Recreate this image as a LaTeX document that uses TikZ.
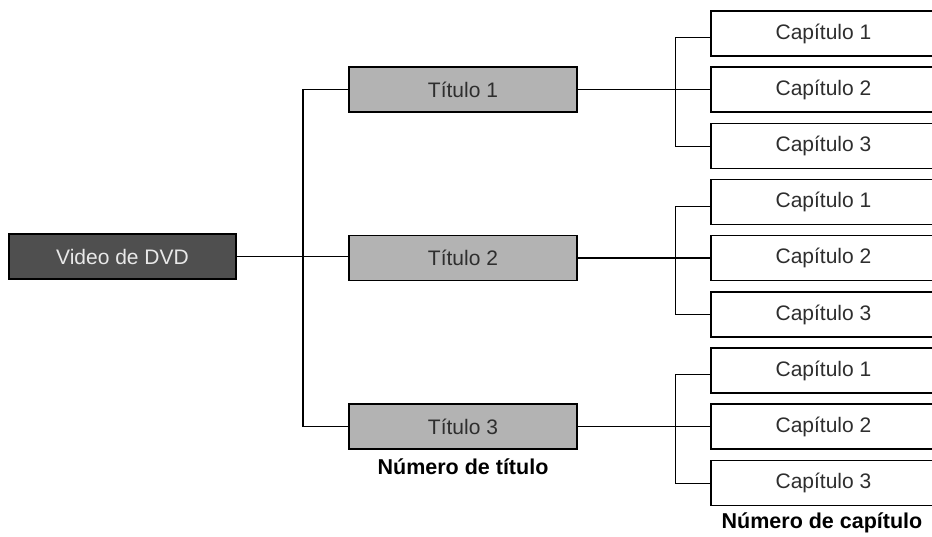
\documentclass[tikz,border=0pt]{standalone}
\usepackage{fontspec}
\setmainfont{Liberation Sans}
\usetikzlibrary{positioning}
\definecolor{darkbox}{HTML}{4F4F4F}
\definecolor{midbox}{HTML}{B3B3B3}
\definecolor{lighttext}{HTML}{E8E8E8}
\definecolor{inktext}{HTML}{2E2E2E}
\tikzset{
  ln/.style={line width=1.7pt,black},
  brk/.style={line width=0.9pt,black},
  rootbox/.style={draw,line width=1.9pt,fill=darkbox,text=lighttext,minimum width=227pt,minimum height=45pt,inner sep=0pt,font=\fontsize{21}{24}\selectfont},
  ttlbox/.style={draw,line width=1.9pt,fill=midbox,text=inktext,minimum width=228pt,minimum height=45pt,inner sep=0pt,font=\fontsize{21}{24}\selectfont},
  capbox/.style={draw,line width=1.9pt,fill=white,text=inktext,minimum width=225pt,minimum height=45pt,inner sep=0pt,anchor=west,font=\fontsize{21}{24}\selectfont},
  lbl/.style={font=\bfseries\fontsize{21.5}{24}\selectfont,inner sep=0pt}
}
\begin{document}
\begin{tikzpicture}[x=1pt,y=-1pt]
\useasboundingbox (0,0) rectangle (932,536);
\clip (0,0) rectangle (932,536);
% root
\node[rootbox] (root) at (122.5,256.5) {Video de DVD};
% titles and their chapters
\foreach \i in {1,2,3}{
  \pgfmathsetmacro{\ty}{89.5+168.5*(\i-1)}
  \node[ttlbox] (ttl\i) at (463,\ty) {Título \i};
  \node[capbox] (cap\i1) at (710,\ty-56) {Capítulo 1};
  \node[capbox] (cap\i2) at (710,\ty) {Capítulo 2};
  \node[capbox] (cap\i3) at (710,\ty+56.5) {Capítulo 3};
  \draw[ln] (ttl\i.east) -- (cap\i2.west);
  \draw[brk] ([yshift=-4pt]cap\i1.west) -- ++(-35,0) |- (cap\i3.west);
}
% trunk
\draw[ln] (root.east) -- (root.east -| ttl2.west);
\draw[ln] (ttl1.west) -- ++(-45,0) |- (ttl3.west);
% captions
\node[lbl] (ttlnote) at (463,467) {Número de título};
\node[lbl] (capnote) at (822,523) {Número de capítulo};
\end{tikzpicture}
\end{document}
